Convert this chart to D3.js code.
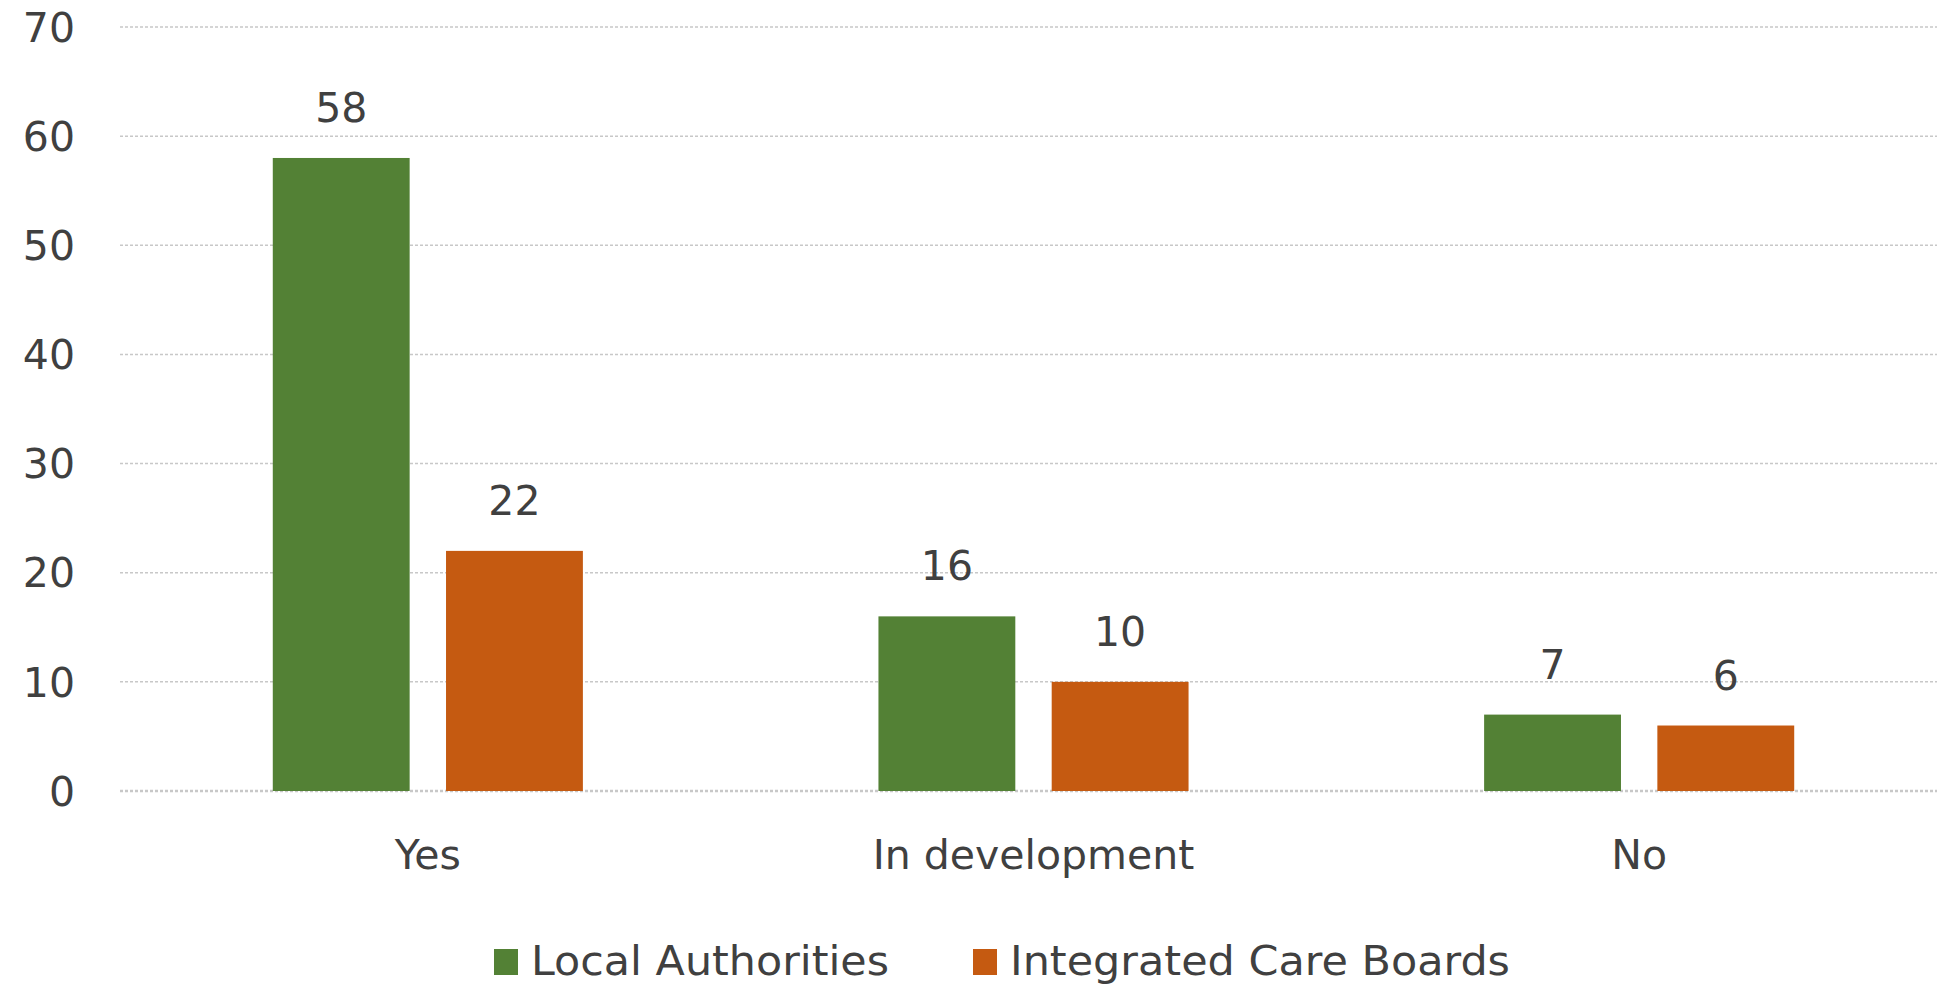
<!DOCTYPE html>
<meta charset="utf-8">
<body style="margin:0;background:#fff">
<div id="chart"></div>
<script src="https://d3js.org/d3.v7.min.js"></script>
<script>
  var categories = ["Yes", "In development", "No"];
  var seriesNames = ["Local Authorities", "Integrated Care Boards"];
  var localAuthorities = [58, 16, 7];
  var integratedCareBoards = [22, 10, 6];
  var yTicks = [0, 10, 20, 30, 40, 50, 60, 70];
  var colors = ["#538135", "#c55a11"];

  var W = 1937, H = 987;
  var margin = {top: 27, right: 0, bottom: 196, left: 120};
  var width = W - margin.left - margin.right,
    height = H - margin.top - margin.bottom;

  var rows = categories.map(function(c, i) {
    return {cat: c, values: [localAuthorities[i], integratedCareBoards[i]]};
  });

  var svg = d3.select("#chart").append("svg")
    .attr("width", W)
    .attr("height", H)
    .style("font-family", "'DejaVu Sans', sans-serif");

  var g = svg.append("g")
    .attr("transform", "translate(" + margin.left + "," + margin.top + ")");

  // bars sit a few px right of the gridline start
  var x0 = d3.scaleBand().domain(categories).range([5, width + 5])
    .paddingInner(0.488).paddingOuter(0.244);
  var x1 = d3.scaleBand().domain([0, 1]).range([0, x0.bandwidth()])
    .paddingInner(0.21);
  var y = d3.scaleLinear().domain([0, 70]).range([height, 0]);

  // gridlines
  g.selectAll(".grid")
    .data(yTicks)
    .enter().append("line")
    .attr("x1", 0).attr("x2", width)
    .attr("y1", function(d) { return y(d); })
    .attr("y2", function(d) { return y(d); })
    .attr("stroke", "#c8c8c8")
    .attr("stroke-width", function(d) { return d === 0 ? 2.5 : 1.5; })
    .attr("stroke-dasharray", "3,2");

  // y tick labels
  g.selectAll(".ytick")
    .data(yTicks)
    .enter().append("text")
    .attr("x", -45)
    .attr("y", function(d) { return y(d); })
    .attr("dy", "0.36em")
    .attr("text-anchor", "end")
    .attr("fill", "#404040")
    .style("font-size", "41px")
    .text(function(d) { return d; });

  var groups = g.selectAll(".cat")
    .data(rows)
    .enter().append("g")
    .attr("transform", function(d) { return "translate(" + x0(d.cat) + ",0)"; });

  groups.selectAll("rect")
    .data(function(d) { return d.values; })
    .enter().append("rect")
    .attr("x", function(d, i) { return x1(i); })
    .attr("y", function(d) { return y(d); })
    .attr("width", x1.bandwidth())
    .attr("height", function(d) { return height - y(d); })
    .attr("fill", function(d, i) { return colors[i]; });

  groups.selectAll(".val")
    .data(function(d) { return d.values; })
    .enter().append("text")
    .attr("x", function(d, i) { return x1(i) + x1.bandwidth() / 2; })
    .attr("y", function(d) { return y(d) - 36; })
    .attr("text-anchor", "middle")
    .attr("fill", "#404040")
    .style("font-size", "41px")
    .text(function(d) { return d; });

  // category labels
  g.selectAll(".xlab")
    .data(categories)
    .enter().append("text")
    .attr("x", function(d) { return x0(d) + x0.bandwidth() / 2; })
    .attr("y", height + 78)
    .attr("text-anchor", "middle")
    .attr("fill", "#404040")
    .style("font-size", "41px")
    .text(function(d) { return d; });

  // legend
  var legendX = [494, 973];
  var legendLen = [358, 500];
  var legend = svg.selectAll(".leg")
    .data(seriesNames)
    .enter().append("g")
    .attr("transform", function(d, i) { return "translate(" + legendX[i] + ",949)"; });

  legend.append("rect")
    .attr("width", 24).attr("height", 26)
    .attr("fill", function(d, i) { return colors[i]; });

  legend.append("text")
    .attr("x", 37)
    .attr("y", 26)
    .attr("fill", "#404040")
    .style("font-size", "41px")
    .attr("textLength", function(d, i) { return legendLen[i]; })
    .attr("lengthAdjust", "spacingAndGlyphs")
    .text(function(d) { return d; });
</script>
</body>
